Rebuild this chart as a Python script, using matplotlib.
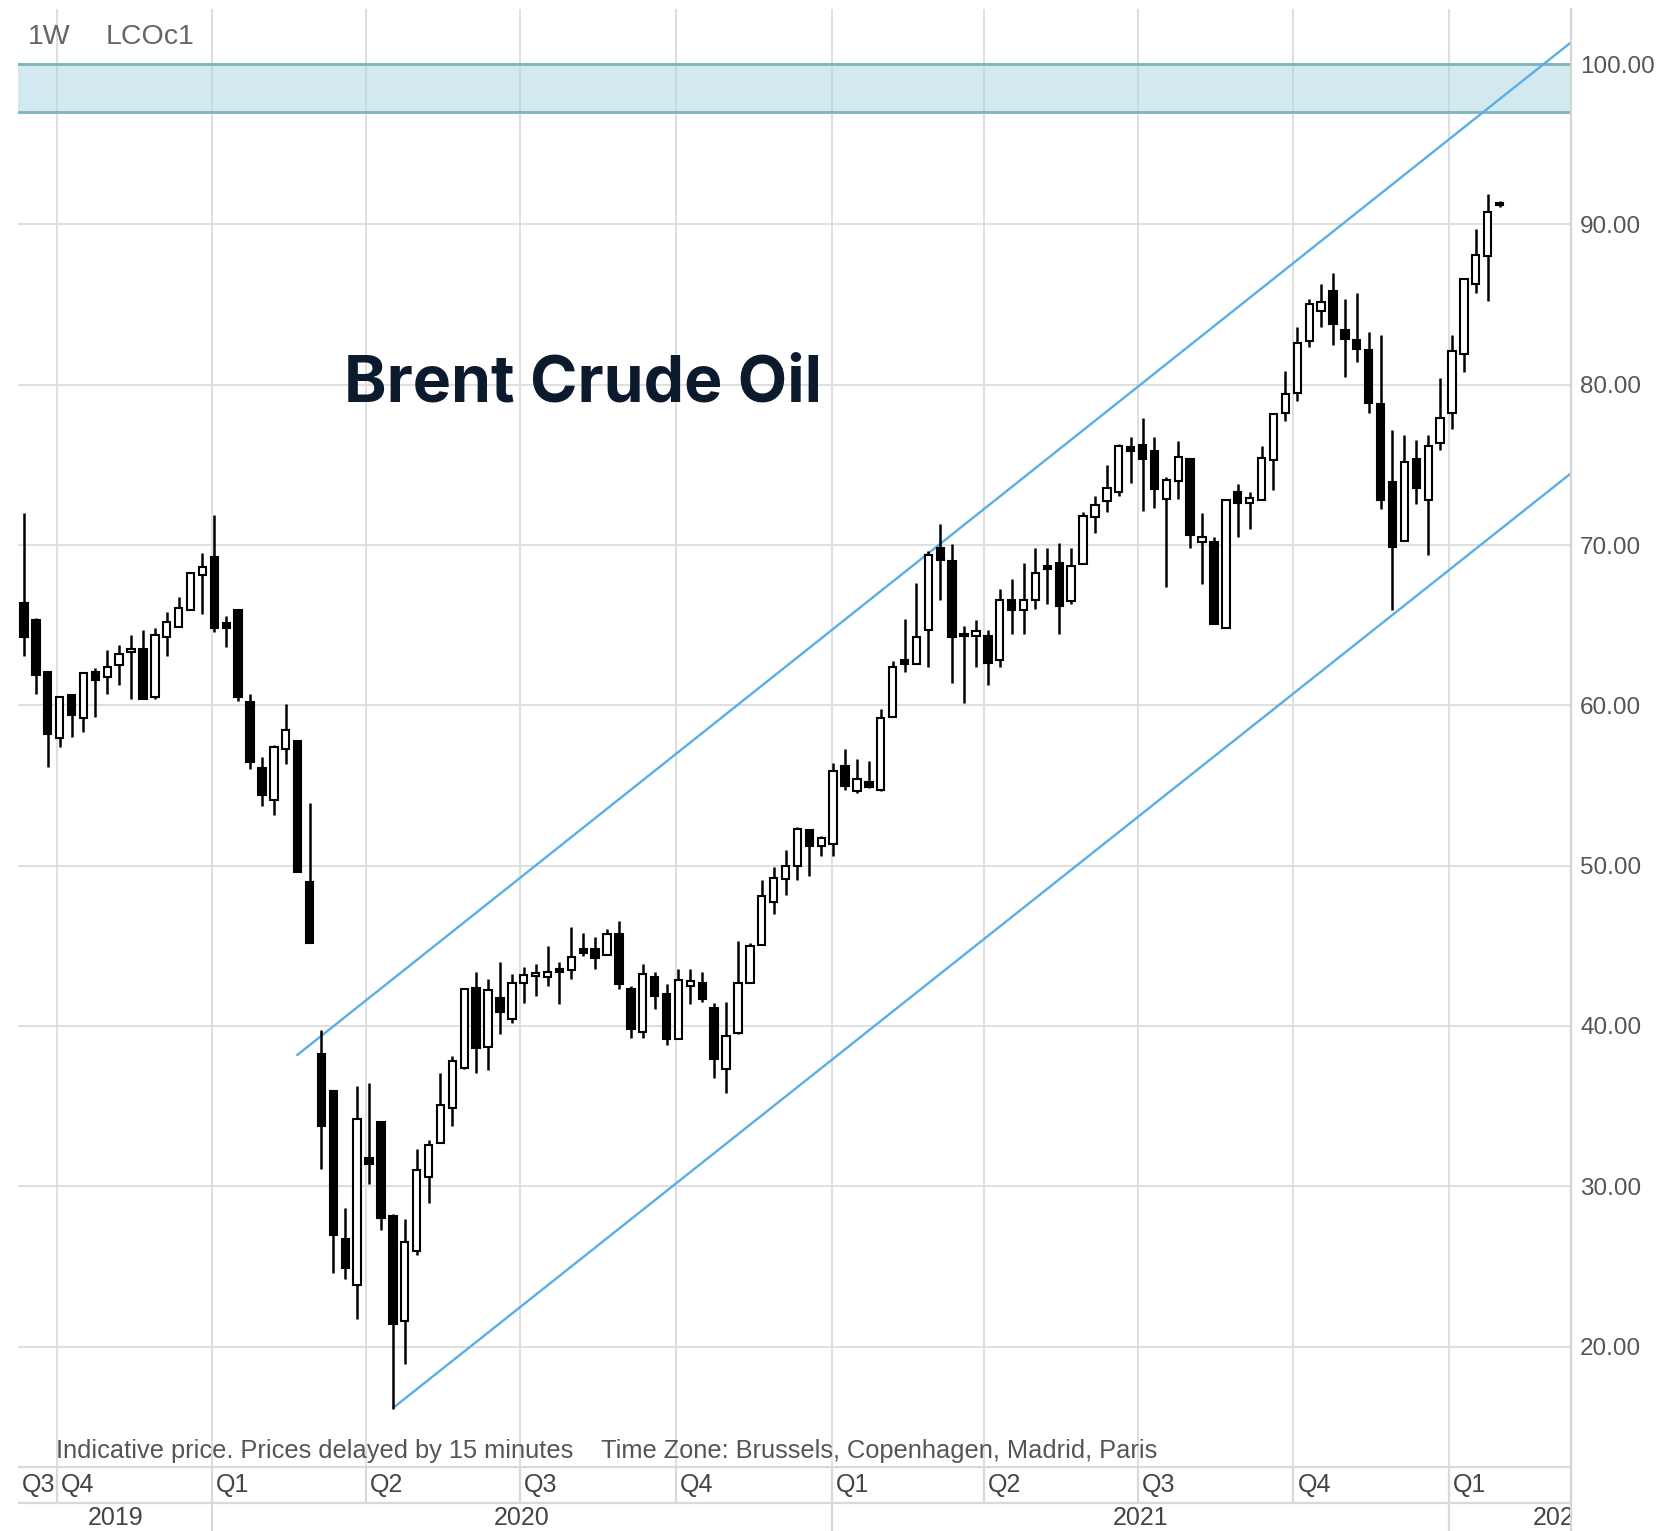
import numpy as np
import pandas as pd
import matplotlib
matplotlib.use("Agg")
import matplotlib.pyplot as plt
from matplotlib.lines import Line2D

# Brent (LCOc1) weekly candles, week of 16 Sep 2019 .. week of 31 Jan 2022 (just opened)
week_start = pd.date_range("2019-09-16", periods=125, freq="7D")

opens = [66.40, 65.30, 62.10, 57.96, 60.67, 59.20, 62.10, 61.77, 62.50, 63.35,
         63.54, 60.52, 64.27, 64.90, 65.94, 68.13, 69.27, 65.15, 65.94, 60.20,
         56.08, 54.10, 57.30, 57.80, 48.96, 38.27, 35.95, 26.74, 23.83, 31.79,
         34.01, 28.15, 21.60, 25.97, 30.60, 32.68, 34.90, 37.40, 42.39, 38.71,
         41.77, 40.46, 42.70, 43.14, 43.05, 43.45, 43.50, 44.79, 44.79, 44.42,
         45.73, 42.29, 39.63, 43.08, 41.98, 39.17, 42.50, 42.71, 41.15, 37.29,
         39.58, 42.67, 45.04, 47.75, 49.17, 49.96, 52.25, 51.21, 51.38, 56.21,
         54.65, 55.23, 54.75, 59.29, 62.80, 62.60, 64.70, 69.83, 68.99, 64.30,
         64.34, 64.34, 62.86, 66.60, 65.92, 66.56, 68.67, 68.88, 66.52, 68.84,
         71.73, 72.72, 73.32, 76.10, 76.27, 75.85, 72.88, 74.02, 75.37, 70.20,
         70.17, 64.81, 73.32, 72.63, 72.84, 75.32, 78.21, 79.47, 82.71, 84.62,
         85.82, 83.40, 82.77, 82.14, 78.78, 73.95, 70.23, 75.36, 72.84, 76.37,
         78.26, 81.93, 86.28, 88.03, 91.35]
highs = [71.98, 65.46, 62.10, 60.60, 60.67, 62.08, 62.30, 63.44, 63.75, 64.40,
         64.69, 64.83, 65.80, 66.77, 68.33, 69.48, 71.88, 65.60, 65.94, 60.73,
         56.77, 57.54, 60.10, 57.80, 53.90, 39.75, 35.95, 28.67, 36.26, 36.43,
         34.01, 28.25, 27.98, 32.30, 32.89, 37.05, 38.13, 42.39, 43.37, 42.91,
         43.99, 43.22, 43.70, 43.85, 44.96, 44.00, 46.20, 45.77, 45.58, 46.08,
         46.56, 42.50, 43.85, 43.38, 42.60, 43.54, 43.54, 43.38, 41.46, 41.50,
         45.31, 45.20, 49.13, 49.90, 50.96, 52.42, 52.25, 51.88, 56.42, 57.29,
         56.67, 56.52, 59.75, 62.77, 65.40, 67.65, 69.60, 71.31, 70.04, 64.97,
         65.33, 64.70, 67.23, 67.87, 68.88, 69.83, 69.83, 70.15, 69.83, 72.09,
         73.06, 75.01, 76.31, 76.74, 77.92, 76.74, 74.25, 76.50, 75.37, 72.00,
         70.48, 72.90, 73.80, 73.32, 76.20, 78.26, 80.88, 83.61, 85.36, 86.30,
         86.97, 85.36, 85.71, 83.26, 83.09, 77.16, 76.89, 76.53, 76.89, 80.40,
         83.09, 86.62, 89.71, 91.91, 91.45]
lows = [63.10, 60.73, 56.15, 57.40, 58.00, 58.33, 59.27, 60.73, 61.25, 60.42,
        60.42, 60.42, 63.10, 64.90, 65.94, 65.73, 64.58, 63.65, 60.30, 56.04,
        53.75, 53.13, 56.35, 49.60, 45.20, 31.06, 24.60, 24.24, 21.75, 30.12,
        27.28, 16.13, 18.90, 25.70, 28.98, 32.68, 33.76, 37.30, 37.09, 37.26,
        39.48, 40.17, 41.41, 41.85, 42.50, 41.38, 42.96, 44.37, 43.58, 44.42,
        42.29, 39.27, 39.27, 41.04, 38.79, 39.17, 41.35, 41.50, 36.77, 35.79,
        39.48, 42.67, 45.04, 46.98, 48.19, 49.13, 49.33, 50.58, 50.58, 54.71,
        54.54, 54.85, 54.65, 59.29, 62.10, 62.60, 62.40, 66.56, 61.38, 60.12,
        62.38, 61.24, 62.38, 64.45, 64.45, 66.03, 66.35, 64.45, 66.35, 68.84,
        70.74, 72.05, 73.06, 73.90, 72.15, 72.30, 67.40, 72.85, 69.80, 67.60,
        65.06, 64.81, 70.48, 71.00, 72.84, 73.42, 77.73, 78.99, 82.35, 83.61,
        82.50, 80.46, 81.45, 78.21, 72.27, 65.97, 70.23, 72.58, 69.39, 75.95,
        77.21, 80.78, 85.71, 85.23, 91.10]
closes = [64.27, 61.90, 58.20, 60.52, 59.37, 62.00, 61.56, 62.40, 63.23, 63.40,
          60.42, 64.37, 65.17, 66.08, 68.23, 68.65, 64.83, 64.80, 60.52, 56.46,
          54.42, 57.40, 58.44, 49.60, 45.20, 33.76, 26.94, 24.93, 34.18, 31.41,
          28.05, 21.39, 26.55, 31.00, 32.56, 35.09, 37.82, 42.29, 38.65, 42.25,
          40.89, 42.70, 43.16, 43.18, 43.36, 43.38, 44.30, 44.54, 44.27, 45.73,
          42.60, 39.79, 43.23, 41.88, 39.17, 42.88, 42.81, 41.67, 37.92, 39.38,
          42.71, 44.96, 48.13, 49.20, 50.00, 52.29, 51.21, 51.73, 55.90, 55.00,
          55.38, 54.92, 59.23, 62.42, 62.60, 64.25, 69.40, 69.09, 64.28, 64.40,
          64.66, 62.65, 66.60, 65.92, 66.60, 68.25, 68.50, 66.18, 68.67, 71.80,
          72.51, 73.53, 76.17, 75.89, 75.39, 73.50, 74.07, 75.52, 70.60, 70.52,
          65.06, 72.84, 72.63, 72.96, 75.42, 78.15, 79.41, 82.63, 85.02, 85.15,
          83.82, 82.88, 82.25, 78.84, 72.79, 69.90, 75.21, 73.59, 76.20, 77.94,
          82.08, 86.62, 88.09, 90.76, 91.20]

# hand drawn trend channel (bar index, price) and resistance zone
upper_x, upper_y = [22.9, 130.0], [38.15, 101.36]
lower_x, lower_y = [31.0, 130.0], [16.16, 74.48]
zone_low, zone_high = 97.0, 100.0

price_ticks = list(range(20, 101, 10))
quarter_starts = pd.date_range("2019-07-01", "2022-01-01", freq="QS")
quarter_names = ["Q%d" % q.quarter for q in quarter_starts]
year_starts = pd.to_datetime(["2019-01-01", "2020-01-01", "2021-01-01", "2022-01-01"])
year_names = ["2019", "2020", "2021", "2022"]


def bar_pos(dates):
    # bars on the source chart run slightly slower than the calendar
    days = (pd.DatetimeIndex(dates) - week_start[0]).days.values
    return 0.607 + days / 7.033


W, H = 1660, 1531
fig = plt.figure(figsize=(W / 100, H / 100), dpi=100)
plt.rcParams['font.family'] = ['Liberation Sans', 'DejaVu Sans']
small = 18

x_left, x_right = -0.5, 130.0
ax = fig.add_axes([18 / W, 1 - 1466 / H, (1571 - 18) / W, (1466 - 9) / H])
ax.set_xlim(x_left, x_right)
ax.set_ylim(12.55, 103.44)
for s in ax.spines.values():
    s.set_visible(False)

grid_c = '#dcdcdc'
ax.set_yticks(price_ticks)
ax.set_yticklabels(['%.2f' % t for t in price_ticks])
ax.yaxis.tick_right()
ax.tick_params(axis='y', length=0, pad=6.5, labelsize=17.5, labelcolor='#555555')
ax.set_xticks([])
for t in price_ticks:
    ax.axhline(t, color=grid_c, lw=1.3, zorder=0.5)
q_pos = bar_pos(quarter_starts)
for p in q_pos:
    if p > x_left:
        ax.axvline(p, color=grid_c, lw=1.3, zorder=0.5)

# resistance zone
ax.axhspan(zone_low, zone_high, color='#a6d4e0', alpha=0.5, lw=0, zorder=1)
for lvl in (zone_low, zone_high):
    ax.axhline(lvl, color='#7fb3bd', lw=2.0, zorder=1.1)

# channel
ax.plot(upper_x, upper_y, color='#5aaee6', lw=1.7, zorder=2, solid_capstyle='butt')
ax.plot(lower_x, lower_y, color='#5aaee6', lw=1.7, zorder=2, solid_capstyle='butt')

# candles
o, h, l, c = map(np.array, (opens, highs, lows, closes))
x = np.arange(len(o))
up = c >= o
ax.vlines(x, l, h, color='black', lw=1.8, zorder=3)
ax.bar(x, np.maximum(np.abs(c - o), 0.15), width=0.62, bottom=np.minimum(o, c),
       color=np.where(up, 'white', 'black'), edgecolor='black', linewidth=1.5, zorder=4)

# right border
fig.add_artist(Line2D([1571 / W] * 2, [0, 1 - 9 / H], color='#d4d4d4', lw=1.6))

# date strip
axs = fig.add_axes([18 / W, 0, (1571 - 18) / W, 65 / H])
axs.set_xlim(x_left, x_right)
axs.set_ylim(0, 65)
axs.axis('off')
axs.axhline(64.5, color='#d9d9d9', lw=1.6)
axs.axhline(28, color='#d9d9d9', lw=1.6)
for p, name in zip(q_pos, quarter_names):
    if p > x_left:
        axs.vlines(p, 28, 65, color='#d9d9d9', lw=1.6)
    axs.annotate(name, (max(p, x_left), 46), xytext=(4, 0), textcoords='offset pixels',
                 va='center', ha='left', fontsize=small, color='#444444')
y_pos = bar_pos(year_starts)
for i, (p, name) in enumerate(zip(y_pos, year_names)):
    if p > x_left:
        axs.vlines(p, 0, 28, color='#d9d9d9', lw=1.6)
    if i + 1 < len(y_pos):
        mid = (max(p, x_left) + min(y_pos[i + 1], x_right)) / 2
        axs.text(mid, 13, name, ha='center', va='center', fontsize=small, color='#444444')
    else:
        axs.annotate(name, (x_right, 13), xytext=(-38, 0), textcoords='offset pixels',
                     ha='left', va='center', fontsize=small, color='#444444',
                     annotation_clip=False, clip_on=True)

# texts
fig.text(28 / W, 1 - 37 / H, "1W", fontsize=20.5, color='#666666', va='center')
fig.text(106 / W, 1 - 37 / H, "LCOc1", fontsize=20.5, color='#666666', va='center')
fig.text(344 / W, 1 - 384 / H, "Brent Crude Oil", fontsize=46.3, fontweight='bold',
         family=['Inter', 'DejaVu Sans'], color='#0c1a2e', va='center')
fig.text(56 / W, 1 - 1451 / H, "Indicative price. Prices delayed by 15 minutes",
         fontsize=18.3, color='#555555', va='center')
fig.text(601 / W, 1 - 1451 / H, "Time Zone: Brussels, Copenhagen, Madrid, Paris",
         fontsize=18.3, color='#555555', va='center')

fig.savefig("out.png", dpi=100)
